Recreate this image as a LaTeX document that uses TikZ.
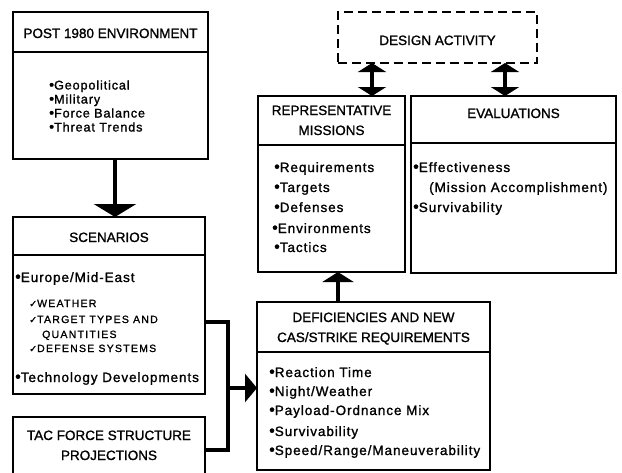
\documentclass[tikz,border=0pt]{standalone}
\usepackage{fontspec}
\setmainfont[FakeBold=1.3]{Liberation Sans}
\newfontfamily\symfont[FakeBold=1.3]{DejaVu Sans}
\newfontfamily\bodyfont[LetterSpace=7,FakeBold=1.3]{Liberation Sans}
\newfontfamily\smallfont[LetterSpace=12,FakeBold=1.3]{Liberation Sans}
\usetikzlibrary{arrows.meta}
\tikzset{
  box/.style={draw, line width=2.8pt, inner sep=0pt, outer sep=0pt},
  dbox/.style={draw, line width=2.2pt, dash pattern=on 9pt off 5pt, inner sep=0pt, outer sep=0pt},
  divider/.style={line width=1.8pt},
  conn/.style={line width=4.8pt, line join=miter},
  title/.style={font=\fontsize{13.5}{20}\selectfont, inner sep=0pt, anchor=base},
  item/.style={font=\bodyfont\fontsize{13.5}{20}\selectfont, inner sep=0pt, anchor=base west},
  envitem/.style={font=\bodyfont\fontsize{12.6}{14}\selectfont, inner sep=0pt, anchor=base west},
  subitem/.style={font=\smallfont\fontsize{10.5}{12}\selectfont, inner sep=0pt, anchor=base west},
}
\newcommand{\chk}{{\symfont\fontsize{9.5}{9.5}\selectfont ✓}}
\newcommand{\bul}{{\fontsize{16}{16}\selectfont •}}
\newcommand{\sbul}{{\fontsize{14}{14}\selectfont •}}
\begin{document}
\begin{tikzpicture}[x=1pt,y=-1pt]
\useasboundingbox (0,0) rectangle (622,472);
\clip (0,0) rectangle (622,472);

% boxes
\node[box, minimum width=195pt, minimum height=147pt] (env) at (110.5,85.5) {};
\node[box, minimum width=192pt, minimum height=177pt] (scen) at (109,305.5) {};
\node[box, minimum width=192pt, minimum height=83pt] (tac) at (109,458.5) {};
\node[dbox, minimum width=199pt, minimum height=51pt] (design) at (437.5,37.5) {};
\node[box, minimum width=147pt, minimum height=176pt] (rep) at (331.5,184) {};
\node[box, minimum width=205pt, minimum height=177pt] (eval) at (513.5,184.5) {};
\node[box, minimum width=233pt, minimum height=168pt] (def) at (373.5,386) {};

% dividers
\draw[divider] ([yshift=-40pt]env.north west) -- ([yshift=-40pt]env.north east);
\draw[divider] ([yshift=-38pt]scen.north west) -- ([yshift=-38pt]scen.north east);
\draw[divider] ([yshift=-49pt]rep.north west) -- ([yshift=-49pt]rep.north east);
\draw[divider] ([yshift=-47pt]eval.north west) -- ([yshift=-47pt]eval.north east);
\draw[divider] ([yshift=-50pt]def.north west) -- ([yshift=-50pt]def.north east);

% titles
\node[title] (envT) at (110.5,38) {POST 1980 ENVIRONMENT};
\node[title] (scenT) at (109,242) {SCENARIOS};
\node[title] (tacT1) at (109,440) {TAC FORCE STRUCTURE};
\node[title] (tacT2) at (109,460) {PROJECTIONS};
\node[title] (designT) at (437.5,45) {DESIGN ACTIVITY};
\node[title] (repT1) at (331.5,115) {REPRESENTATIVE};
\node[title] (repT2) at (331.5,135) {MISSIONS};
\node[title] (evalT) at (513.5,118) {EVALUATIONS};
\node[title] (defT1) at (373.5,322) {DEFICIENCIES AND NEW};
\node[title] (defT2) at (373.5,342) {CAS/STRIKE REQUIREMENTS};

% env items
\node[envitem] (e1) at (49,89.5) {\sbul Geopolitical};
\node[envitem] (e2) at (49,103.5) {\sbul Military};
\node[envitem] (e3) at (49,117.5) {\sbul Force Balance};
\node[envitem] (e4) at (49,131.5) {\sbul Threat Trends};

% scenario items
\node[item] (s1) at (15,282) {\bul Europe/Mid-East};
\node[subitem] (s2) at (29,307) {\chk WEATHER};
\node[subitem] (s3) at (29,323) {\chk TARGET TYPES AND};
\node[subitem] (s4) at (42,338) {QUANTITIES};
\node[subitem] (s5) at (29,352) {\chk DEFENSE SYSTEMS};
\node[item] (s6) at (15,382) {\bul Technology Developments};

% rep items
\node[item] (r1) at (274,172) {\bul Requirements};
\node[item] (r2) at (274,192) {\bul Targets};
\node[item] (r3) at (274,212) {\bul Defenses};
\node[item] (r4) at (272,233) {\bul Environments};
\node[item] (r5) at (274,252) {\bul Tactics};

% eval items
\node[item] (v1) at (413,172) {\bul Effectiveness};
\node[item] (v2) at (429,192) {(Mission Accomplishment)};
\node[item] (v3) at (413,212) {\bul Survivability};

% deficiency items
\node[item] (d1) at (269,377) {\bul Reaction Time};
\node[item] (d2) at (269,396) {\bul Night/Weather};
\node[item] (d3) at (269,415) {\bul Payload-Ordnance Mix};
\node[item] (d4) at (269,436) {\bul Survivability};
\node[item] (d5) at (269,455) {\bul Speed/Range/Maneuverability};

% connector coordinates
\coordinate (ax1) at (115,0);
\coordinate (ax2) at (338,0);
\coordinate (ax3) at (372,0);
\coordinate (ax4) at (505,0);
\coordinate (j1) at (228,322);
\coordinate (j2) at (228,450);
\coordinate (j3) at (228,388);

% connectors
\draw[conn, -{Triangle[width=42pt,length=13pt]}] (env.south -| ax1) -- (scen.north -| ax1);
\draw[conn, -{Triangle[width=31pt,length=10pt]}] (def.north -| ax2) -- (rep.south -| ax2);
\draw[conn, {Triangle[width=28pt,length=9pt]}-{Triangle[width=28pt,length=9pt]}] (design.south -| ax3) -- (rep.north -| ax3);
\draw[conn, {Triangle[width=28pt,length=9pt]}-{Triangle[width=28pt,length=9pt]}] (design.south -| ax4) -- (eval.north -| ax4);
\draw[conn] (scen.east |- j1) -- (j1) -- (j2) -- (tac.east |- j2);
\draw[conn, -{Triangle[width=28pt,length=12pt]}] (j3) -- (def.west |- j3);
\end{tikzpicture}
\end{document}
